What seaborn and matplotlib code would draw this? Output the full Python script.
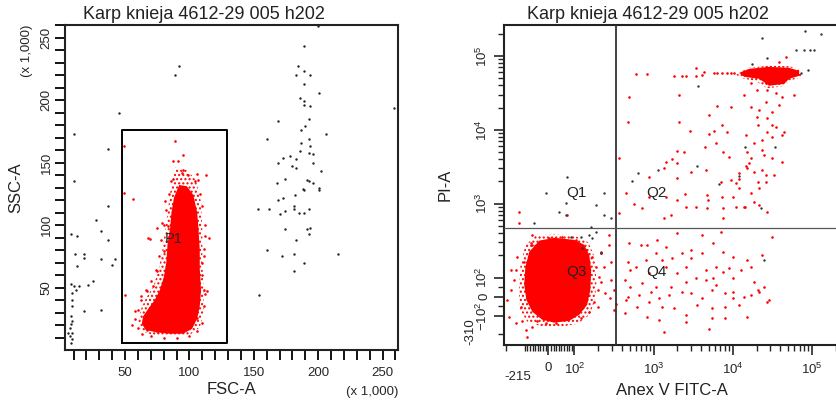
import numpy as np
import matplotlib
matplotlib.use("Agg")
import matplotlib.pyplot as plt
import matplotlib.transforms as mtransforms
import seaborn as sns

TITLE = "Karp knieja 4612-29 005 h202"

# ---- left panel: FSC-A vs SSC-A (x 1,000) ----
# dense P1 population: solid part and speckled fringe
p1_core_x = [92, 98, 103, 106, 107, 108, 108, 109, 108, 106, 102, 95, 85, 75, 66, 63, 64, 68, 73, 77, 80, 82, 83, 85, 86, 88]
p1_core_y = [132, 131, 124, 110, 97, 80, 65, 48, 35, 25, 17, 13, 13, 14, 16, 21, 27, 33, 40, 48, 58, 70, 85, 98, 110, 122]
p1_fringe_x = [89, 98, 105, 109, 110, 110, 111, 111, 108, 100, 85, 72, 63, 60, 62, 66, 72, 76, 79, 81, 83, 85]
p1_fringe_y = [146, 144, 136, 118, 95, 70, 45, 30, 18, 12, 11, 12, 15, 22, 32, 41, 51, 64, 80, 95, 110, 126]

# scattered P1 events (red)
p1_x = [89, 87, 91, 95, 95, 113, 106, 107, 87, 49, 49, 56, 81, 79, 75, 68, 83, 112, 115, 111, 110, 80,
        75, 72, 67, 50, 62, 58, 55, 111, 114, 106, 67, 75, 69,
        110, 111, 112, 110, 108, 104, 99, 94, 86, 84, 82, 80, 78, 76, 74, 70, 66, 62, 60, 58, 60, 63,
        70, 80, 90, 100, 106, 110, 111, 112]
p1_y = [167, 151, 151, 156, 144, 140, 141, 136, 137, 163, 126, 121, 119, 102, 98, 90, 99, 91, 90, 81, 70, 79,
        63, 51, 47, 44, 43, 31, 20, 48, 47, 26, 16, 15, 89,
        60, 75, 100, 115, 125, 135, 140, 142, 135, 125, 112, 100, 88, 75, 64, 55, 48, 40, 32, 25, 18, 13,
        11, 10, 10, 11, 15, 22, 35, 45]

# events outside the gate (black)
other_x = [200, 189, 184, 189, 183, 194, 189, 201, 186, 189, 194, 189, 259, 193, 169, 190, 187, 206, 160, 193,
           187, 194, 186, 193, 196, 178, 173, 183, 169, 196, 180, 183, 202, 174, 191, 193, 168, 196, 201, 188,
           201, 182, 189, 173, 169, 153, 162, 170, 174, 181, 181, 185, 189, 193, 174, 191, 194, 193, 183, 160,
           172, 181, 189, 215, 181, 154,
           10, 45, 37, 10, 37, 27, 31, 8, 13, 37, 11, 18, 18, 31, 42, 40, 13, 25, 21, 8, 10, 14, 12, 9, 9, 9,
           18, 31, 8, 9, 7, 9, 7, 9, 8, 6, 8, 89, 92]
other_y = [259, 243, 227, 223, 220, 220, 213, 206, 202, 199, 195, 196, 194, 185, 183, 179, 176, 173, 169, 169,
           166, 163, 159, 158, 157, 155, 154, 153, 150, 150, 147, 146, 143, 137, 136, 135, 134, 134, 130, 129,
           128, 124, 128, 122, 120, 113, 113, 109, 111, 115, 113, 110, 110, 113, 97, 97, 98, 93, 88, 80,
           75, 77, 70, 77, 63, 44,
           173, 190, 161, 135, 115, 104, 95, 93, 91, 88, 77, 77, 74, 73, 73, 68, 67, 55, 52, 53, 51, 51, 48, 46, 40, 35,
           31, 32, 27, 23, 18, 14, 11, 9, 6, 14, 21, 220, 227]

gate_x = [47.5, 129.5, 129.5, 47.5, 47.5]
gate_y = [5.5, 5.5, 176, 176, 5.5]

# ---- right panel: Anex V FITC-A vs PI-A ----
q3_core_x = [-34, 23, 99, 133, 154, 163, 159, 145, 115, 80, 23, -23, -61, -84, -92, -88, -73]
q3_core_y = [316, 345, 324, 278, 203, 127, 36, -42, -94, -121, -130, -116, -78, -16, 62, 136, 223]
q3_fringe_x = [-50, 23, 100, 150, 180, 190, 182, 155, 110, 40, -30, -80, -108, -115, -108, -88]
q3_fringe_y = [370, 390, 370, 300, 190, 80, -20, -95, -135, -155, -148, -125, -70, 20, 140, 270]

band_core_x = [12080, 16150, 28900, 51700, 69100, 69100, 51700, 44700, 28900, 21600, 13960]
band_core_y = [59000, 66900, 71100, 69000, 62800, 53800, 49000, 41900, 39400, 49000, 52100]
band_fringe_x = [11000, 16150, 28900, 51700, 73000, 73000, 51700, 41500, 27300, 19500, 12080]
band_fringe_y = [57000, 69000, 74000, 72500, 66000, 51500, 46000, 38500, 36500, 45500, 51000]

# red events around Q3
q3_x = [-113, -158, -187, -172, -128, -84, -80, -61, -104, -139, -92, -61, 4, 54, 106, 141, 168, 189, 206, 196,
        178, 154, 122, 69, 31, -8, -42, 238, 294, 338, 245, 218, 275, -113, 73, -61, -65, -123, -128, -158,
        275, -99, 218, 294, 218, 285, 196, 318, 318]
q3_y = [551, 36, -16, -103, -130, -171, -224, -152, -52, 88, 164, 278, 345, 356, 324, 237, 191, 140, 103, 36,
        -26, -78, -107, -107, -130, -130, -121, 140, 88, -36, 21, 223, 278, 777, 708, 379, 296, 191, 127, 127,
        379, -121, 216, 164, 78, -6, -52, -68, 36]

# red events in Q2 (band extension and tail)
q2_x = [604, 832, 1824, 2300, 2580, 3450, 3450, 4110, 4360, 5830, 6360, 7350, 8510, 9570, 10420,
        493, 470, 2110, 2110, 2910, 6360, 9570, 5050, 7350, 5830, 8510, 5050, 2000, 2450, 1700, 4500, 6100,
        7600, 9030, 1370, 882, 1950, 3000, 4600, 2500, 1950, 1650, 1370, 4700, 4900, 7600, 9570, 11100, 10000,
        12080, 14300, 17100, 18600, 21600, 15300, 16150, 18600, 23500, 16800, 21000, 26500, 26500, 15300,
        18600, 23500, 23500, 24700, 27300, 31500, 35300, 41500, 27300, 31500, 20600, 20200, 21600, 17100,
        26500, 31500, 38600, 41500, 44700, 41500, 31500, 33400, 14900, 14900, 20200, 27300, 35300, 26500,
        38600, 59700, 16800, 13960, 47300, 38600, 7350, 7600, 11100, 13960, 21600, 27300, 12080, 2580, 4700,
        3450, 7100, 12080, 368, 368, 1440, 706, 570, 452, 882, 1950, 1440]
q2_y = [57300, 57300, 53800, 53800, 53800, 69000, 53800, 55000, 60900, 59000, 59000, 59000, 59000, 59000, 59000,
        27900, 12800, 29700, 12800, 9690, 21100, 20500, 16000, 11700, 9690, 9400, 8830, 5200, 5050, 4050, 5890, 6670,
        5050, 4310, 3060, 2310, 2250, 2700, 2875, 1360, 1130, 708, 645, 1300, 1130, 645, 2105, 1920, 1230,
        1640, 908, 1400, 1060, 1640, 3060, 3570, 2700, 2875, 4180, 1990, 1990, 2460, 5050,
        6670, 7310, 5360, 4590, 9400, 8040, 11000, 8550, 14500, 11700, 11700, 15000, 18620, 20500,
        23900, 17500, 21800, 27900, 9400, 3690, 4180, 2460, 8550, 3200, 34750, 34750, 31600, 43200,
        43200, 29700, 43200, 29700, 97200, 83200, 1230, 880, 908, 908, 966, 777, 2620, 908, 880,
        908, 1990, 2170, 4180, 753, 1230, 880, 996, 1400, 1230, 3570, 3690]

# red events in Q4
q4_x = [493, 698, 832, 1110, 1440, 1950, 4110, 7100, 2270, 3000, 4110, 5600, 7600, 10000, 15300, 23500, 31500,
        12900, 16800, 18600, 10000, 7600, 5600, 4600, 3450, 2580, 1950, 1440, 1650, 1080, 706, 510, 470, 659,
        920, 1180, 1580, 2320, 3000, 4110, 5400, 8000, 10000, 13960, 21600, 27300, 12080, 8000, 5400, 3520,
        2580, 1820, 1280, 882, 625, 452, 430, 832, 1180, 1370, 5400, 8000, 15300, 5050, 2580, 882, 604, 470,
        510, 430, 800, 1080, 1280, 1700, 2580, 3000, 4600, 6100, 9030, 6100, 10000, 16800, 24700, 28900, 20600]
q4_y = [296, 278, 278, 324, 261, 404, 379, 420, 216, 237, 216, 296, 223, 191, 174, 203, 356,
        127, 140, 78, 99, 120, 99, 127, 99, 78, 116, 140, 52, 52, 73, 52, 0, 10,
        26, -6, 10, 26, 21, -6, 36, 21, 26, 0, 26, -26, -42, -52, -57, -42,
        -94, -57, -52, -26, -52, -16, -83, -103, -116, -185, -107, -107, -103, -165, -125, 116, 140, 164,
        127, 88, 174, 216, 174, 185, 140, 185, 88, 140, 136, 62, -6, 10, 52, -16, 36]

# black / grey events on the right panel
dark_x = [23500, 131000, 82200, 27300, 17700, 72500, 89800, 3600, 636, 1150, 530, 14300, 34300, 6750, 3520,
          12080, 22800, 24700, 238, 189, 69, 42, -54, 163, 189, 168, 154, 122, 88, 126, 218, -8, 238, 73, 69,
          294, 63200, 79800, 95100, 107000]
dark_y = [175800, 199000, 218000, 94200, 78200, 59000, 64860, 39400, 2620, 2875, 2040, 5890, 5890, 1870, 3260,
          2400, 880, 174, 708, 966, 708, 777, 551, 486, 420, 345, 379, 356, 356, 253, 216, 1403, 1403, 2310, 1030,
          645, 120800, 120800, 120800, 120800]

quad_x = 338
quad_y = 472
q_labels = ["Q1", "Q2", "Q3", "Q4"]
q_label_x = [106, 1081, 106, 1081]
q_label_y = [1403, 1403, 120, 120]


def biex(lin, k):
    # linear around zero, log above 100 (roughly like the cytometer display)
    def fwd(v):
        v = np.asarray(v, dtype=float)
        a = np.maximum(np.abs(v), 100.0)
        return np.where(v >= 100, lin + np.log10(a / 100),
                        np.where(v > -100, lin * v / 100, -lin - k * np.log10(a / 100)))

    def inv(f):
        f = np.asarray(f, dtype=float)
        pos = 100 * 10 ** np.clip(f - lin, -50, 50)
        neg = -100 * 10 ** np.clip((-f - lin) / k, -50, 50)
        return np.where(f >= lin, pos, np.where(f > -lin, f * 100 / lin, neg))
    return fwd, inv


def cloud(ax, core_x, core_y, fringe_x, fringe_y):
    # speckled fringe drawn as dotted hatch, solid core on top
    ax.fill(fringe_x, fringe_y, facecolor="none", edgecolor="red", hatch="....", lw=0, zorder=2)
    ax.fill(core_x, core_y, color="red", lw=0, zorder=2)


sns.set_style("ticks")
plt.rcParams["font.family"] = ["Liberation Sans", "DejaVu Sans"]
plt.rcParams["mathtext.fontset"] = "custom"
plt.rcParams["mathtext.rm"] = "Liberation Sans"
plt.rcParams["mathtext.default"] = "regular"
plt.rcParams["hatch.linewidth"] = 1.0

fig = plt.figure(figsize=(8.36, 4.05), dpi=100)
ax1 = fig.add_axes([65 / 836, 55 / 405, 333 / 836, 325 / 405])
ax2 = fig.add_axes([504 / 836, 60 / 405, 341 / 836, 320 / 405])

# left panel
cloud(ax1, p1_core_x, p1_core_y, p1_fringe_x, p1_fringe_y)
sns.scatterplot(x=p1_x, y=p1_y, color="red", s=3.5, linewidth=0, ax=ax1, zorder=3)
sns.scatterplot(x=other_x, y=other_y, color="#222222", s=3, linewidth=0, ax=ax1, zorder=3)
ax1.plot(gate_x, gate_y, color="black", lw=1.4, zorder=4)
ax1.text(88, 89, "P1", fontsize=10.5, ha="center", va="center", zorder=5)
ax1.set_xlim(3.3, 262)
ax1.set_ylim(0, 260)
ax1.set_xticks([50, 100, 150, 200, 250])
ax1.set_xticks(list(range(10, 261, 10)), minor=True)
ax1.set_yticks([50, 100, 150, 200, 250])
ax1.set_yticks(list(range(10, 261, 10)), minor=True)
ax1.tick_params(axis="both", which="both", direction="out", length=7, width=1.3, labelsize=9.5, color="black")
ax1.tick_params(axis="x", pad=5)
ax1.tick_params(axis="y", pad=2)
for lab in ax1.get_yticklabels():
    lab.set_rotation(90)
    lab.set_va("center")
ax1.set_xlabel("FSC-A", fontsize=12, color="#222222")
ax1.set_ylabel("SSC-A", fontsize=12, color="#222222")
ax1.xaxis.set_label_coords(0.5, -0.098)
ax1.yaxis.set_label_coords(-0.125, 0.5)
ax1.text(1.0, -0.13, "(x 1,000)", transform=ax1.transAxes, fontsize=9.5, ha="right", va="center")
ax1.text(-0.115, 1.0, "(x 1,000)", transform=ax1.transAxes, fontsize=9.5, rotation=90, ha="center", va="top")

# right panel
fx, ix = biex(0.33, 0.69)
fy, iy = biex(0.26, 0.80)
ax2.set_xscale("function", functions=(fx, ix))
ax2.set_yscale("function", functions=(fy, iy))
cloud(ax2, q3_core_x, q3_core_y, q3_fringe_x, q3_fringe_y)
cloud(ax2, band_core_x, band_core_y, band_fringe_x, band_fringe_y)
sns.scatterplot(x=q3_x, y=q3_y, color="red", s=3.5, linewidth=0, ax=ax2, zorder=3)
sns.scatterplot(x=q2_x, y=q2_y, color="red", s=3.5, linewidth=0, ax=ax2, zorder=3)
sns.scatterplot(x=q4_x, y=q4_y, color="red", s=3.5, linewidth=0, ax=ax2, zorder=3)
sns.scatterplot(x=dark_x, y=dark_y, color="#333333", s=3, linewidth=0, ax=ax2, zorder=3)
ax2.axvline(quad_x, color="#333333", lw=1.3, zorder=4)
ax2.axhline(quad_y, color="#555555", lw=0.9, zorder=4)
for lab, lx, ly in zip(q_labels, q_label_x, q_label_y):
    ax2.text(lx, ly, lab, fontsize=11, ha="center", va="center", color="#222222", zorder=5)
ax2.set_xlim(-215, 262144)
ax2.set_ylim(-310, 262144)

decades = [2, 3, 4, 5, 6, 7, 8, 9]
x_minor = [-200] + [m for m in range(-90, 100, 10) if m != 0] + \
          [d * 10 ** e for e in (2, 3, 4) for d in decades] + [200000]
y_minor = [-200, -50, 50] + [d * 10 ** e for e in (2, 3, 4) for d in decades] + [200000]
ax2.set_xticks([0, 100, 1000, 10000, 100000])
ax2.set_xticklabels(["0", "$10^2$", "$10^3$", "$10^4$", "$10^5$"])
ax2.set_xticks(x_minor, minor=True)
ax2.set_yticks([-100, 0, 100, 1000, 10000, 100000])
ax2.set_yticklabels(["$-10^2$", "0", "$10^2$", "$10^3$", "$10^4$", "$10^5$"])
ax2.set_yticks(y_minor, minor=True)
ax2.tick_params(axis="both", which="major", direction="out", length=7, width=1.2, labelsize=9.5)
ax2.tick_params(axis="both", which="minor", direction="out", length=4.5, width=1.0)
ax2.tick_params(axis="x", which="major", pad=5)
ax2.tick_params(axis="y", which="major", pad=3)
for lab in ax2.get_yticklabels():
    lab.set_rotation(90)
    lab.set_va("center")
ax2.set_xlabel("Anex V FITC-A", fontsize=12, color="#222222")
ax2.set_ylabel("PI-A", fontsize=12, color="#222222")
ax2.xaxis.set_label_coords(0.493, -0.119)
ax2.yaxis.set_label_coords(-0.15, 0.5)
bx = mtransforms.blended_transform_factory(ax2.transData, ax2.transAxes)
ax2.text(-215, -0.1, "-215", transform=bx, fontsize=9.5, ha="left", va="center")
by = mtransforms.blended_transform_factory(ax2.transAxes, ax2.transData)
ax2.text(-0.1, -310, "-310", transform=by, fontsize=9.5, rotation=90, ha="center", va="bottom")

for ax, cx in ((ax1, 0.417), (ax2, 0.422)):
    for sp in ax.spines.values():
        sp.set_visible(True)
        sp.set_linewidth(1.5)
        sp.set_color("#222222")
    ax.text(cx, 1.005, TITLE, transform=ax.transAxes, fontsize=13, ha="center", va="bottom", color="#222222")

fig.savefig("out.png", dpi=100)
